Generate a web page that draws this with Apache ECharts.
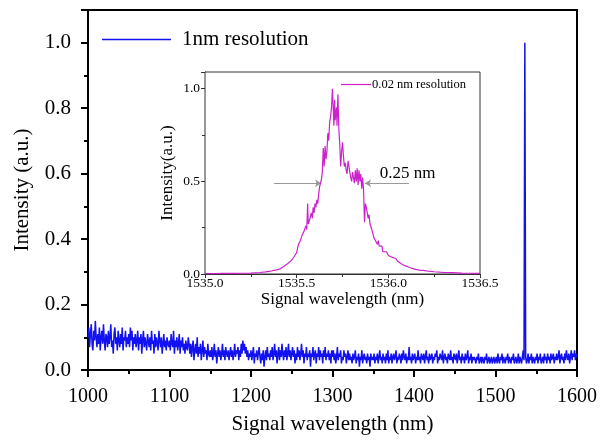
<!DOCTYPE html>
<html>
<head>
<meta charset="utf-8">
<script src="https://cdn.jsdelivr.net/npm/echarts@6/dist/echarts.min.js"></script>
<style>html,body{margin:0;padding:0;background:#fff;}#c{width:610px;height:440px;}</style>
</head>
<body>
<div id="c"></div>
<script>
// Main spectrum: wavelength start/step (nm) and intensities (a.u.), 1 nm resolution
const mainStart = 1000;
const mainStep = 1;
const mainIntensity = [
0.10,0.13,0.07,0.11,0.14,0.08,0.06,0.12,0.09,0.15,0.10,0.07,0.11,0.08,0.13,0.06,0.10,0.12,0.08,0.14,0.09,0.06,0.11,0.10,0.07,
0.12,0.08,0.10,0.14,0.07,0.09,0.05,0.11,0.13,0.08,0.10,0.06,0.12,0.09,0.07,0.11,0.08,0.13,0.06,0.10,0.09,0.12,0.07,0.10,0.08,
0.11,0.07,0.13,0.09,0.12,0.06,0.10,0.08,0.11,0.07,0.09,0.12,0.06,0.10,0.08,0.11,0.05,0.09,0.12,0.07,0.10,0.08,0.06,0.11,0.09,
0.07,0.10,0.06,0.12,0.08,0.09,0.05,0.11,0.07,0.10,0.08,0.06,0.12,0.09,0.07,0.10,0.05,0.08,0.11,0.07,0.09,0.06,0.10,0.08,0.07,
0.09,0.06,0.11,0.08,0.07,0.12,0.05,0.09,0.07,0.10,0.06,0.08,0.11,0.05,0.09,0.07,0.10,0.06,0.08,0.05,0.09,0.07,0.06,0.10,0.08,
0.05,0.08,0.04,0.07,0.09,0.03,0.06,0.08,0.05,0.10,0.04,0.07,0.05,0.08,0.03,0.06,0.09,0.04,0.07,0.05,0.06,0.03,0.08,0.05,0.04,
0.06,0.04,0.07,0.03,0.05,0.08,0.04,0.06,0.02,0.05,0.07,0.04,0.06,0.03,0.05,0.08,0.04,0.06,0.03,0.07,0.05,0.04,0.06,0.03,0.05,
0.07,0.04,0.06,0.03,0.05,0.08,0.04,0.06,0.05,0.07,0.03,0.06,0.04,0.08,0.05,0.09,0.06,0.08,0.05,0.07,0.04,0.06,0.03,0.05,0.04,
0.06,0.03,0.05,0.07,0.02,0.05,0.04,0.06,0.03,0.05,0.07,0.04,0.02,0.05,0.03,0.06,0.01,0.04,0.06,0.03,0.07,0.04,0.05,0.03,0.06,
0.04,0.07,0.03,0.05,0.08,0.04,0.06,0.02,0.05,0.07,0.03,0.06,0.04,0.08,0.05,0.03,0.06,0.04,0.07,0.03,0.05,0.08,0.04,0.06,0.03,
0.05,0.07,0.04,0.06,0.02,0.05,0.03,0.07,0.04,0.06,0.03,0.05,0.08,0.04,0.06,0.02,0.05,0.04,0.07,0.03,0.05,0.04,0.06,0.01,0.05,
0.04,0.07,0.03,0.05,0.06,0.02,0.05,0.04,0.07,0.03,0.06,0.04,0.05,0.02,0.06,0.04,0.07,0.03,0.05,0.04,0.06,0.03,0.05,0.02,0.06,
0.04,0.06,0.03,0.05,0.02,0.04,0.07,0.03,0.05,0.04,0.06,0.02,0.04,0.03,0.06,0.04,0.05,0.02,0.04,0.06,0.03,0.05,0.03,0.04,0.02,
0.05,0.03,0.04,0.06,0.02,0.04,0.03,0.05,0.01,0.04,0.03,0.06,0.02,0.04,0.05,0.03,0.04,0.02,0.05,0.03,0.04,0.01,0.05,0.03,0.04,
0.03,0.05,0.02,0.04,0.03,0.05,0.02,0.04,0.06,0.03,0.04,0.02,0.05,0.03,0.04,0.02,0.05,0.03,0.06,0.02,0.04,0.03,0.05,0.02,0.04,
0.05,0.03,0.04,0.06,0.02,0.04,0.03,0.05,0.04,0.02,0.05,0.03,0.06,0.04,0.03,0.05,0.02,0.04,0.03,0.07,0.03,0.04,0.02,0.05,0.03,
0.04,0.05,0.02,0.04,0.03,0.06,0.03,0.04,0.02,0.05,0.04,0.03,0.05,0.02,0.04,0.06,0.03,0.04,0.02,0.05,0.03,0.04,0.05,0.02,0.04,
0.03,0.05,0.04,0.06,0.02,0.04,0.03,0.05,0.04,0.03,0.06,0.02,0.04,0.05,0.03,0.04,0.02,0.05,0.04,0.03,0.06,0.03,0.04,0.02,0.05,
0.04,0.03,0.05,0.02,0.04,0.06,0.03,0.04,0.02,0.05,0.03,0.04,0.02,0.05,0.03,0.04,0.06,0.02,0.04,0.03,0.05,0.02,0.04,0.03,0.04,
0.03,0.02,0.04,0.03,0.05,0.02,0.03,0.04,0.02,0.04,0.03,0.02,0.04,0.03,0.05,0.02,0.03,0.04,0.02,0.03,0.04,0.02,0.03,0.04,0.02,
0.03,0.04,0.02,0.05,0.03,0.02,0.04,0.03,0.05,0.02,0.04,0.03,0.02,0.04,0.03,0.05,0.02,0.04,0.03,0.02,0.04,0.03,0.05,0.02,0.03,
0.04,0.02,0.03,0.05,0.02,0.04,0.03,0.02,0.04,0.06,0.03,1.00,0.04,0.02,0.03,0.05,0.02,0.04,0.03,0.05,0.02,0.04,0.03,0.02,0.04,
0.03,0.05,0.02,0.04,0.03,0.05,0.02,0.03,0.04,0.02,0.05,0.03,0.04,0.02,0.05,0.03,0.04,0.02,0.05,0.03,0.04,0.05,0.02,0.04,0.03,
0.05,0.03,0.04,0.06,0.02,0.04,0.05,0.03,0.04,0.02,0.05,0.03,0.06,0.04,0.03,0.05,0.02,0.04,0.06,0.03,0.05,0.04,0.06,0.03,0.05,
0.04
];
// Inset spectrum: [wavelength (nm), intensity (a.u.)], 0.02 nm resolution
const insetSpectrum = [
[1535.00,0.002],[1535.05,0.002],[1535.10,0.003],[1535.15,0.003],[1535.20,0.004],[1535.25,0.005],[1535.30,0.008],[1535.33,0.011],
[1535.36,0.016],[1535.39,0.022],[1535.41,0.028],[1535.43,0.04],[1535.45,0.055],[1535.46,0.062],[1535.47,0.072],[1535.48,0.085],
[1535.49,0.10],[1535.50,0.115],[1535.505,0.14],[1535.51,0.16],[1535.515,0.15],[1535.52,0.18],[1535.525,0.17],[1535.53,0.21],
[1535.535,0.20],[1535.54,0.23],[1535.545,0.22],[1535.55,0.26],[1535.555,0.24],[1535.56,0.38],[1535.563,0.27],[1535.57,0.29],
[1535.575,0.28],[1535.58,0.33],[1535.585,0.30],[1535.59,0.36],[1535.595,0.33],[1535.60,0.38],[1535.605,0.36],[1535.61,0.40],
[1535.615,0.38],[1535.62,0.43],[1535.625,0.47],[1535.63,0.49],[1535.635,0.51],[1535.64,0.55],[1535.645,0.68],[1535.65,0.58],
[1535.655,0.69],[1535.66,0.62],[1535.665,0.66],[1535.67,0.76],[1535.675,0.72],[1535.68,0.82],[1535.685,0.85],[1535.69,0.90],
[1535.695,1.00],[1535.70,0.88],[1535.703,0.80],[1535.707,0.94],[1535.71,0.83],[1535.713,0.82],[1535.717,0.90],[1535.72,0.80],
[1535.725,0.97],[1535.73,0.78],[1535.735,0.70],[1535.74,0.58],[1535.745,0.66],[1535.75,0.71],[1535.755,0.64],[1535.76,0.58],
[1535.765,0.60],[1535.77,0.56],[1535.775,0.54],[1535.78,0.61],[1535.785,0.58],[1535.79,0.55],[1535.795,0.52],[1535.80,0.50],
[1535.805,0.55],[1535.81,0.52],[1535.815,0.49],[1535.82,0.56],[1535.825,0.50],[1535.83,0.57],[1535.835,0.48],[1535.84,0.56],
[1535.845,0.50],[1535.85,0.54],[1535.855,0.46],[1535.86,0.52],[1535.865,0.45],[1535.87,0.28],[1535.875,0.38],[1535.88,0.36],
[1535.885,0.33],[1535.89,0.30],[1535.895,0.32],[1535.90,0.27],[1535.91,0.24],[1535.915,0.25],[1535.92,0.20],[1535.925,0.21],
[1535.93,0.18],[1535.935,0.19],[1535.94,0.16],[1535.945,0.18],[1535.95,0.15],[1535.96,0.14],[1535.965,0.15],[1535.97,0.12],
[1535.975,0.13],[1535.98,0.11],[1535.99,0.12],[1536.00,0.10],[1536.01,0.105],[1536.02,0.09],[1536.03,0.08],[1536.04,0.085],
[1536.05,0.07],[1536.06,0.065],[1536.07,0.055],[1536.08,0.05],[1536.09,0.045],[1536.10,0.04],[1536.11,0.038],[1536.12,0.032],
[1536.13,0.03],[1536.15,0.025],[1536.17,0.021],[1536.19,0.02],[1536.20,0.016],[1536.22,0.015],[1536.25,0.012],[1536.28,0.010],
[1536.30,0.009],[1536.35,0.007],[1536.40,0.005],[1536.45,0.004],[1536.50,0.003]
];
// FWHM annotation (nm, a.u.)
const fwhmLeft = [1535.376, 1535.633];
const fwhmRight = [1536.113, 1535.873];
const fwhmLevel = 0.49;
const fwhmText = '0.25 nm';
const fwhmTextAt = [1535.95, 0.54];

const mainData = mainIntensity.map((v, i) => [mainStart + i * mainStep, v]);
const FONT = "'Liberation Serif','Times New Roman',serif";

const chart = echarts.init(document.getElementById('c'), null, {renderer: 'canvas'});
chart.setOption({
  animation: false,
  backgroundColor: '#fff',
  textStyle: {fontFamily: FONT, color: '#000'},
  grid: [
    {left: 88, right: 33, top: 10, bottom: 69, show: true, borderColor: '#000', borderWidth: 2, backgroundColor: 'transparent'},
    {left: 205, right: 130, top: 72, bottom: 166, show: true, borderColor: '#333', borderWidth: 1, backgroundColor: '#fff', z: 3}
  ],
  legend: [
    {data: ['1nm resolution'], left: 102, top: 29, padding: 0, icon: 'rect', itemWidth: 69, itemHeight: 1.6,
     textStyle: {fontFamily: FONT, fontSize: 21, color: '#000', padding: [0, 0, 0, 6]}},
    {data: ['0.02 nm resolution'], left: 341, top: 78, padding: 0, icon: 'rect', itemWidth: 30, itemHeight: 1.2, z: 10,
     textStyle: {fontFamily: FONT, fontSize: 12.5, color: '#000', padding: [0, 0, 0, -4]}}
  ],
  xAxis: [
    {type: 'value', gridIndex: 0, min: 1000, max: 1600, interval: 100,
     name: 'Signal wavelength (nm)', nameLocation: 'middle', nameGap: 44,
     nameTextStyle: {fontFamily: FONT, fontSize: 21, color: '#000'},
     axisLine: {onZero: false, lineStyle: {color: '#000', width: 2}},
     axisTick: {length: 7, lineStyle: {color: '#000', width: 2}},
     minorTick: {show: true, splitNumber: 2, length: 4, lineStyle: {color: '#000', width: 2}},
     splitLine: {show: false},
     axisLabel: {fontFamily: FONT, fontSize: 20, color: '#000', margin: 17, formatter: v => String(v)}},
    {type: 'value', gridIndex: 1, min: 1535, max: 1536.5, interval: 0.5,
     name: 'Signal wavelength (nm)', nameLocation: 'middle', nameGap: 16,
     nameTextStyle: {fontFamily: FONT, fontSize: 17, color: '#000'},
     axisLine: {onZero: false, lineStyle: {color: '#333', width: 1}},
     axisTick: {length: 4, lineStyle: {color: '#333', width: 1}},
     minorTick: {show: true, splitNumber: 2, length: 3, lineStyle: {color: '#333', width: 1}},
     splitLine: {show: false},
     axisLabel: {fontFamily: FONT, fontSize: 13.5, color: '#000', margin: 2, formatter: v => v.toFixed(1)}}
  ],
  yAxis: [
    {type: 'value', gridIndex: 0, min: 0, max: 1.1, interval: 0.2,
     name: 'Intensity (a.u.)', nameLocation: 'middle', nameGap: 55,
     nameTextStyle: {fontFamily: FONT, fontSize: 21, color: '#000'},
     axisLine: {show: true, onZero: false, lineStyle: {color: '#000', width: 2}},
     axisTick: {show: true, length: 7, lineStyle: {color: '#000', width: 2}},
     minorTick: {show: true, splitNumber: 2, length: 4, lineStyle: {color: '#000', width: 2}},
     splitLine: {show: false},
     axisLabel: {fontFamily: FONT, fontSize: 21, color: '#000', margin: 17, showMaxLabel: false, formatter: v => v.toFixed(1)}},
    {type: 'value', gridIndex: 1, min: 0, max: 1.09, interval: 0.5,
     name: 'Intensity(a.u.)', nameLocation: 'middle', nameGap: 29,
     nameTextStyle: {fontFamily: FONT, fontSize: 17, color: '#000'},
     axisLine: {show: true, onZero: false, lineStyle: {color: '#333', width: 1}},
     axisTick: {show: true, length: 4, lineStyle: {color: '#333', width: 1}},
     minorTick: {show: true, splitNumber: 2, length: 3, lineStyle: {color: '#333', width: 1}},
     splitLine: {show: false},
     axisLabel: {fontFamily: FONT, fontSize: 13.5, color: '#000', margin: 5, showMaxLabel: false, formatter: v => v.toFixed(1)}}
  ],
  series: [
    {name: '1nm resolution', type: 'line', xAxisIndex: 0, yAxisIndex: 0, data: mainData,
     symbol: 'none', color: '#1212f0', lineStyle: {color: '#1212f0', width: 1.5}, z: 2},
    {name: '0.02 nm resolution', type: 'line', xAxisIndex: 1, yAxisIndex: 1, data: insetSpectrum,
     symbol: 'none', color: '#cc22cc', lineStyle: {color: '#cc22cc', width: 1.2}, z: 5,
     markLine: {silent: true, symbol: ['none', 'arrow'], symbolSize: [6, 6], animation: false,
       label: {show: false},
       lineStyle: {color: '#999', width: 1, type: 'solid'},
       data: [
         [{coord: [fwhmLeft[0], fwhmLevel]}, {coord: [fwhmLeft[1], fwhmLevel]}],
         [{coord: [fwhmRight[0], fwhmLevel]}, {coord: [fwhmRight[1], fwhmLevel]}]
       ]},
     markPoint: {silent: true, symbol: 'circle', symbolSize: 1, animation: false,
       itemStyle: {color: 'rgba(0,0,0,0)'},
       label: {show: true, position: 'right', distance: 0, formatter: fwhmText,
         fontFamily: FONT, fontSize: 17, color: '#000'},
       data: [{coord: fwhmTextAt}]}}
  ]
});
</script>
</body>
</html>
